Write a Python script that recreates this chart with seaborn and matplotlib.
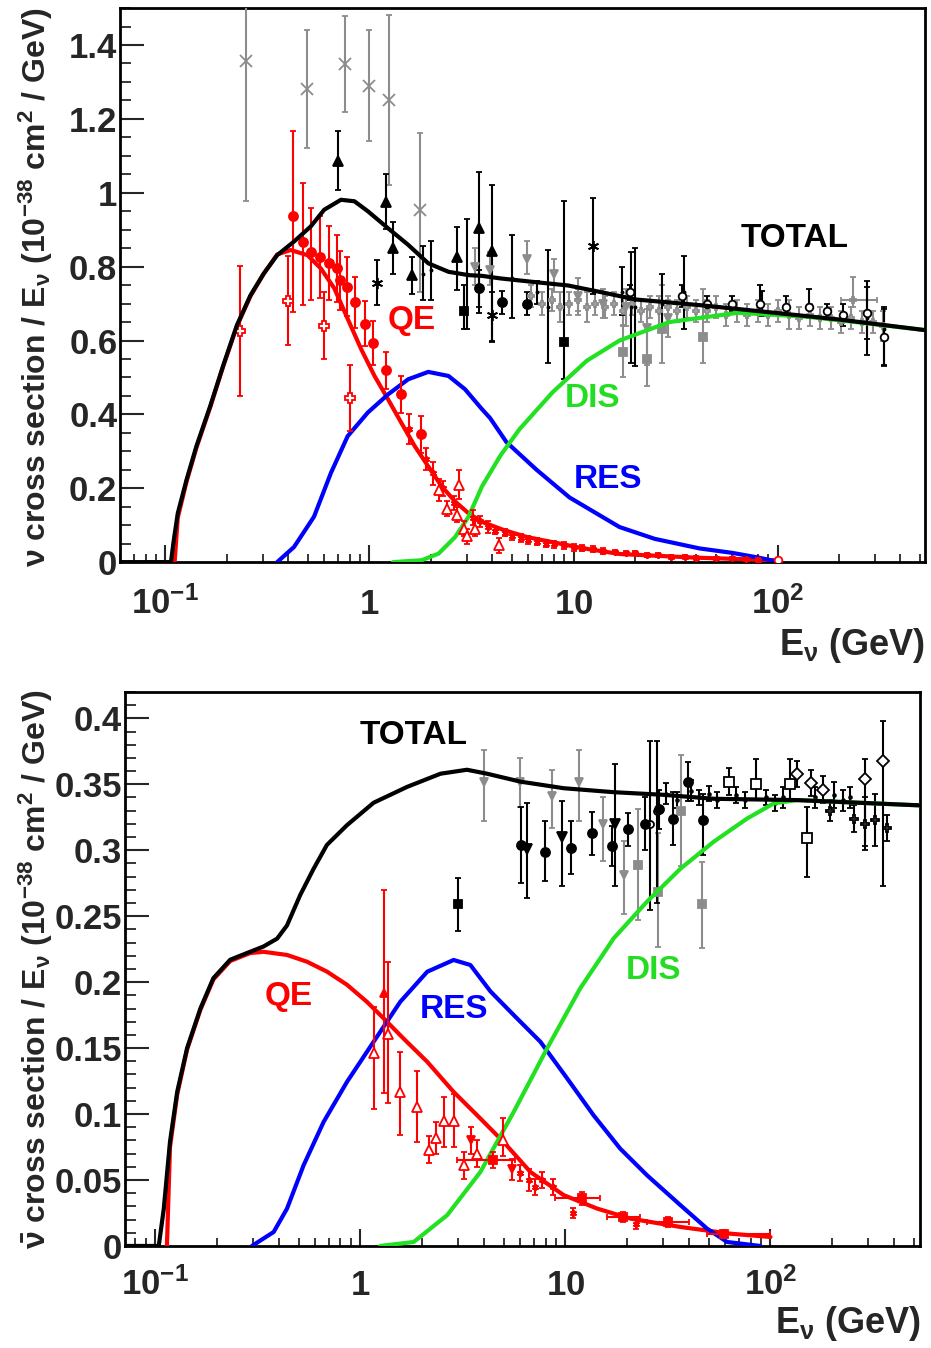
import numpy as np
import pandas as pd
import matplotlib
matplotlib.use("Agg")
import matplotlib.pyplot as plt
import seaborn as sns

# ------------------------------------------------------------------
# model curves (E in GeV, cross section / E in 1e-38 cm^2 / GeV)
# ------------------------------------------------------------------
nu_total_E = [0.06, 0.1065, 0.110, 0.115, 0.127, 0.142, 0.166, 0.192, 0.224, 0.261, 0.303, 0.353,
              0.427, 0.516, 0.600, 0.725, 0.844, 0.982, 1.233, 1.548, 1.942, 2.44, 3.06, 3.56,
              4.4, 6.5, 9.4, 13.9, 20.2, 43, 93, 199, 530]
nu_total_y = [0, 0, 0.06, 0.132, 0.223, 0.314, 0.423, 0.532, 0.641, 0.722, 0.781, 0.831,
              0.868, 0.909, 0.954, 0.981, 0.977, 0.950, 0.904, 0.859, 0.809, 0.786, 0.777, 0.775,
              0.768, 0.758, 0.749, 0.73, 0.711, 0.695, 0.676, 0.657, 0.628]

nu_qe_E = [0.111, 0.115, 0.127, 0.142, 0.166, 0.192, 0.224, 0.261, 0.303, 0.353, 0.411, 0.497,
           0.578, 0.673, 0.782, 0.910, 1.059, 1.233, 1.433, 1.667, 1.942, 2.26, 2.63, 3.06, 3.56,
           4.49, 5.9, 7.9, 11, 16.8, 40, 100]
nu_qe_y = [0, 0.12, 0.218, 0.31, 0.42, 0.53, 0.638, 0.72, 0.78, 0.833, 0.845, 0.831,
           0.795, 0.741, 0.659, 0.577, 0.504, 0.441, 0.377, 0.314, 0.259, 0.205, 0.164, 0.132, 0.109,
           0.088, 0.068, 0.054, 0.038, 0.022, 0.012, 0.005]

nu_res_E = [0.353, 0.427, 0.535, 0.647, 0.782, 0.982, 1.233, 1.548, 1.942, 2.44, 2.94, 3.56,
            3.9, 4.69, 6.59, 9.56, 16.8, 25, 41.5, 60, 81, 102]
nu_res_y = [0, 0.041, 0.123, 0.241, 0.341, 0.405, 0.454, 0.495, 0.515, 0.504, 0.468, 0.414,
            0.39, 0.325, 0.25, 0.175, 0.095, 0.063, 0.037, 0.025, 0.012, 0]

nu_dis_E = [1.304, 1.80, 2.18, 2.63, 3.06, 3.56, 4.4, 5.44, 7.9, 11.6, 16.8, 29.5, 63.7, 135,
            200, 530]
nu_dis_y = [0, 0.005, 0.023, 0.068, 0.123, 0.205, 0.29, 0.36, 0.46, 0.545, 0.60, 0.65, 0.675,
            0.665, 0.655, 0.628]

nub_total_E = [0.071, 0.104, 0.110, 0.118, 0.128, 0.143, 0.166, 0.192, 0.232, 0.290, 0.337, 0.393,
               0.439, 0.509, 0.592, 0.687, 0.861, 1.161, 1.69, 2.46, 3.31, 4.15, 6.03, 9.82, 17.2,
               30.1, 52.9, 135, 535]
nub_total_y = [0, 0, 0.028, 0.079, 0.117, 0.150, 0.180, 0.203, 0.217, 0.223, 0.227, 0.233,
               0.243, 0.266, 0.286, 0.304, 0.319, 0.336, 0.348, 0.358, 0.361, 0.358, 0.352, 0.347, 0.344,
               0.342, 0.339, 0.338, 0.334]

nub_qe_E = [0.114, 0.118, 0.128, 0.143, 0.166, 0.192, 0.232, 0.290, 0.337, 0.439, 0.549, 0.687,
            0.861, 1.078, 1.30, 1.63, 2.12, 2.85, 3.85, 4.99, 6.75, 9.82, 14.3, 20.8, 36.4, 63.8, 100]
nub_qe_y = [0, 0.075, 0.115, 0.149, 0.179, 0.202, 0.216, 0.222, 0.223, 0.2206, 0.2155, 0.208,
            0.198, 0.185, 0.1725, 0.157, 0.1396, 0.1168, 0.0966, 0.0789, 0.0561, 0.0385, 0.0283,
            0.0207, 0.0144, 0.0093, 0.0068]

nub_res_E = [0.296, 0.378, 0.439, 0.529, 0.662, 0.861, 1.161, 1.566, 2.12, 2.85, 3.44, 3.85, 4.31,
             5.60, 7.55, 10.2, 13.7, 18.5, 25.0, 36.4, 49.1, 61.5, 89.2]
nub_res_y = [0, 0.0106, 0.0283, 0.0612, 0.094, 0.1244, 0.1548, 0.1851, 0.2079, 0.2168, 0.213, 0.203,
             0.193, 0.175, 0.1548, 0.127, 0.0992, 0.0738, 0.0536, 0.0309, 0.0131, 0.003, 0]

nub_dis_E = [1.25, 1.82, 2.65, 3.85, 5.60, 8.14, 11.8, 17.2, 25.0, 36.4, 52.9, 76.9, 104, 135, 535]
nub_dis_y = [0, 0.003, 0.0233, 0.0561, 0.1017, 0.1497, 0.1952, 0.2332, 0.261, 0.286, 0.3065, 0.324,
             0.3356, 0.338, 0.334]

# ------------------------------------------------------------------
# data points: (E, value, err_down, err_up)
# ------------------------------------------------------------------
nu_gray_x = [(0.249, 1.357, 0.38, 0.15), (0.497, 1.28, 0.16, 0.16), (0.755, 1.349, 0.13, 0.13),
             (0.99, 1.29, 0.15, 0.15), (1.25, 1.25, 0.23, 0.23), (1.76, 0.952, 0.22, 0.21)]
nu_black_tri = [(0.70, 1.087, 0.08, 0.08), (1.21, 0.976, 0.075, 0.075), (1.31, 0.85, 0.07, 0.07),
                (1.61, 0.777, 0.05, 0.05), (2.70, 0.826, 0.09, 0.08), (3.46, 0.905, 0.23, 0.15),
                (4.0, 0.842, 0.245, 0.18)]
nu_black_star = [(1.09, 0.757, 0.06, 0.06), (4.0, 0.67, 0.07, 0.06), (12.5, 0.856, 0.13, 0.13)]
nu_black_circ = [(3.46, 0.741, 0.05, 0.05), (4.48, 0.703, 0.03, 0.03), (5.94, 0.70, 0.03, 0.03)]
nu_black_sq = [(2.9, 0.68, 0.05, 0.07), (9.0, 0.597, 0.10, 0.38)]
nu_black_bars = [(1.82, 0.78, 0.07, 0.075), (2.0, 0.79, 0.08, 0.08), (3.02, 0.78, 0.15, 0.15),
                 (5.0, 0.77, 0.11, 0.115), (6.6, 0.73, 0.03, 0.03), (7.5, 0.69, 0.15, 0.155),
                 (17.2, 0.73, 0.06, 0.07), (19.2, 0.69, 0.15, 0.15), (20.1, 0.69, 0.16, 0.16),
                 (27.2, 0.70, 0.07, 0.08), (34.6, 0.73, 0.1, 0.1), (84.3, 0.70, 0.035, 0.035),
                 (275, 0.66, 0.1, 0.1), (333, 0.63, 0.1, 0.06)]
nu_gray_sq = [(17.4, 0.57, 0.07, 0.073), (22.8, 0.551, 0.075, 0.09), (27.2, 0.63, 0.09, 0.12),
              (43, 0.61, 0.07, 0.13)]
nu_gray_vtri = [(3.3, 0.80, 0.05, 0.05), (3.9, 0.79, 0.04, 0.05), (5.9, 0.82, 0.04, 0.05),
                (8.0, 0.78, 0.05, 0.04), (10.5, 0.72, 0.05, 0.05), (14, 0.70, 0.04, 0.04),
                (18, 0.69, 0.05, 0.05), (23, 0.635, 0.1, 0.05), (29, 0.66, 0.05, 0.05)]
nu_gray_band = [(6.2, 0.72, 0.03, 0.03), (7.0, 0.70, 0.03, 0.03), (7.8, 0.71, 0.03, 0.03),
                (8.6, 0.69, 0.04, 0.04), (9.5, 0.70, 0.03, 0.03), (10.5, 0.71, 0.03, 0.03),
                (11.6, 0.69, 0.04, 0.04), (12.8, 0.70, 0.03, 0.03), (14.2, 0.69, 0.03, 0.03),
                (15.7, 0.70, 0.03, 0.03), (17.4, 0.68, 0.04, 0.04), (19.3, 0.70, 0.03, 0.03),
                (21.4, 0.68, 0.03, 0.03), (23.7, 0.69, 0.03, 0.03), (26.2, 0.68, 0.04, 0.04),
                (29, 0.69, 0.03, 0.03), (32, 0.68, 0.03, 0.03), (36, 0.69, 0.03, 0.03),
                (40, 0.68, 0.03, 0.03), (45, 0.68, 0.03, 0.03), (50, 0.69, 0.03, 0.03),
                (56, 0.67, 0.03, 0.03), (63, 0.68, 0.03, 0.03), (71, 0.67, 0.03, 0.03),
                (80, 0.68, 0.03, 0.03), (90, 0.67, 0.03, 0.03), (101, 0.68, 0.03, 0.03),
                (114, 0.67, 0.04, 0.04), (128, 0.66, 0.03, 0.03), (144, 0.67, 0.03, 0.03),
                (162, 0.66, 0.03, 0.03), (182, 0.66, 0.03, 0.03), (205, 0.65, 0.03, 0.03),
                (230, 0.66, 0.03, 0.03), (260, 0.65, 0.03, 0.03), (292, 0.65, 0.03, 0.03),
                (330, 0.64, 0.04, 0.04)]
nu_open_black = [(19, 0.73, 0.02, 0.02), (34, 0.72, 0.03, 0.03), (45, 0.70, 0.02, 0.02),
                 (60, 0.70, 0.02, 0.02), (82, 0.70, 0.03, 0.05), (110, 0.69, 0.02, 0.03),
                 (143, 0.69, 0.03, 0.05), (175, 0.68, 0.02, 0.02), (210, 0.67, 0.03, 0.03),
                 (275, 0.675, 0.07, 0.07), (333, 0.61, 0.075, 0.075)]
nu_gray_cross = [(233, 0.711, 0.02, 0.06)]
nu_gray_cross_x = [(204, 307)]

nu_red_circ = [(0.42, 0.937, 0.26, 0.23), (0.47, 0.866, 0.17, 0.16), (0.52, 0.839, 0.13, 0.12),
               (0.575, 0.826, 0.11, 0.11), (0.63, 0.809, 0.10, 0.10), (0.69, 0.795, 0.09, 0.09),
               (0.72, 0.763, 0.08, 0.08), (0.78, 0.745, 0.08, 0.08), (0.85, 0.703, 0.07, 0.07),
               (0.955, 0.646, 0.06, 0.06), (1.046, 0.594, 0.06, 0.06), (1.2, 0.52, 0.05, 0.05),
               (1.43, 0.455, 0.05, 0.05), (1.78, 0.346, 0.05, 0.05)]
nu_red_cross = [(0.231, 0.627, 0.177, 0.175), (0.397, 0.708, 0.12, 0.12), (0.60, 0.64, 0.09, 0.09),
                (0.80, 0.444, 0.09, 0.09)]
nu_red_tri = [(2.2, 0.196, 0.03, 0.03), (2.4, 0.145, 0.02, 0.02), (2.7, 0.128, 0.02, 0.02),
              (2.76, 0.21, 0.04, 0.04), (2.9, 0.09, 0.02, 0.02), (3.0, 0.07, 0.02, 0.02),
              (3.3, 0.09, 0.02, 0.02), (4.3, 0.046, 0.02, 0.02)]
nu_red_star = [(1.57, 0.36, 0.04, 0.04), (1.9, 0.28, 0.03, 0.03), (2.05, 0.24, 0.03, 0.03),
               (2.3, 0.20, 0.02, 0.02), (2.6, 0.16, 0.02, 0.02), (3.2, 0.12, 0.02, 0.02),
               (3.5, 0.11, 0.015, 0.015), (3.8, 0.095, 0.015, 0.015), (4.1, 0.085, 0.01, 0.01),
               (4.6, 0.08, 0.01, 0.01), (5.0, 0.07, 0.01, 0.01), (5.5, 0.065, 0.01, 0.01),
               (6.0, 0.06, 0.01, 0.01), (6.6, 0.055, 0.01, 0.01), (7.3, 0.05, 0.01, 0.01),
               (8.0, 0.048, 0.01, 0.01), (9, 0.045, 0.01, 0.01), (10, 0.04, 0.01, 0.01),
               (11, 0.037, 0.008, 0.008), (12.5, 0.035, 0.008, 0.008), (14, 0.03, 0.008, 0.008),
               (16, 0.028, 0.006, 0.006), (18, 0.025, 0.006, 0.006), (20, 0.024, 0.006, 0.006),
               (23, 0.02, 0.005, 0.005), (26, 0.02, 0.005, 0.005), (30, 0.015, 0.005, 0.005),
               (35, 0.015, 0.005, 0.005), (40, 0.012, 0.004, 0.004), (50, 0.01, 0.004, 0.004),
               (60, 0.01, 0.003, 0.003), (70, 0.008, 0.003, 0.003), (80, 0.007, 0.003, 0.003)]
nu_red_open = [(100, 0.005, 0.003, 0.003)]

nub_gray_vtri = [(4.03, 0.352, 0.03, 0.024), (6.03, 0.352, 0.019, 0.018), (8.6, 0.341, 0.024, 0.02),
                 (11.7, 0.352, 0.03, 0.024), (15.3, 0.32, 0.028, 0.02), (19.4, 0.281, 0.029, 0.026)]
nub_black_circ = [(6.1, 0.304, 0.029, 0.029), (7.97, 0.299, 0.022, 0.023), (10.6, 0.302, 0.02, 0.02),
                  (13.5, 0.313, 0.017, 0.016), (16.8, 0.303, 0.015, 0.015), (20.2, 0.316, 0.013, 0.012),
                  (24.5, 0.32, 0.02, 0.02), (28.7, 0.331, 0.015, 0.015), (33.6, 0.324, 0.02, 0.02),
                  (39.8, 0.352, 0.015, 0.015), (46.9, 0.323, 0.027, 0.02)]
nub_black_vtri = [(6.5, 0.301, 0.037, 0.035), (9.6, 0.31, 0.037, 0.027), (17.4, 0.32, 0.047, 0.045)]
nub_black_sq = [(3.0, 0.259, 0.02, 0.02)]
nub_black_bars = [(25.8, 0.32, 0.065, 0.063), (27.9, 0.33, 0.07, 0.053)]
nub_gray_sq = [(22.6, 0.289, 0.042, 0.042), (28.4, 0.268, 0.041, 0.045), (36.5, 0.33, 0.042, 0.042),
               (46.6, 0.259, 0.033, 0.032)]
nub_open_sq = [(62.5, 0.352, 0.01, 0.01), (85, 0.35, 0.012, 0.019), (125, 0.35, 0.012, 0.019),
               (151, 0.309, 0.029, 0.024)]
nub_open_diam = [(135, 0.358, 0.01, 0.01), (157, 0.351, 0.01, 0.01), (180, 0.346, 0.01, 0.01),
                 (288, 0.354, 0.051, 0.015), (355, 0.368, 0.095, 0.03)]
nub_open_cross = [(195, 0.33, 0.008, 0.008), (255, 0.324, 0.01, 0.01), (288, 0.32, 0.02, 0.02),
                  (323, 0.323, 0.02, 0.02), (368, 0.317, 0.01, 0.01)]
nub_black_band = [(31, 0.343, 0.008, 0.008), (35, 0.338, 0.006, 0.006), (41, 0.345, 0.008, 0.008),
                  (45, 0.34, 0.006, 0.006), (50, 0.343, 0.006, 0.006), (55, 0.338, 0.006, 0.006),
                  (68, 0.342, 0.006, 0.006), (75, 0.338, 0.006, 0.006), (95, 0.34, 0.006, 0.006),
                  (105, 0.336, 0.006, 0.006), (115, 0.34, 0.008, 0.008), (165, 0.34, 0.008, 0.008),
                  (205, 0.342, 0.01, 0.01), (225, 0.338, 0.008, 0.008), (245, 0.34, 0.008, 0.008)]

nub_red_tri = [(1.17, 0.146, 0.042, 0.035), (1.37, 0.161, 0.053, 0.054), (1.57, 0.117, 0.033, 0.03),
               (1.88, 0.105, 0.026, 0.028), (2.17, 0.073, 0.01, 0.01), (2.35, 0.082, 0.012, 0.012),
               (2.57, 0.095, 0.02, 0.018), (2.87, 0.095, 0.02, 0.02), (3.21, 0.061, 0.01, 0.01),
               (3.72, 0.07, 0.01, 0.01), (4.98, 0.08, 0.012, 0.017)]
nub_red_fulltri = [(1.3, 0.192, 0.076, 0.078)]
nub_red_vtri = [(3.47, 0.08, 0.01, 0.01), (5.5, 0.058, 0.008, 0.008)]
nub_red_sq = [(4.46, 0.065, 0.006, 0.006), (12.1, 0.036, 0.005, 0.005), (19, 0.022, 0.004, 0.004),
              (31.8, 0.018, 0.004, 0.004), (59.6, 0.0094, 0.003, 0.003)]
nub_red_sq_x = [(2.97, 5.7), (8.9, 14.8), (16, 23), (25, 40), (49, 100)]
nub_red_star = [(6.0, 0.055, 0.006, 0.006), (6.67, 0.05, 0.008, 0.008), (7.1, 0.045, 0.006, 0.006),
                (7.7, 0.05, 0.006, 0.006), (8.7, 0.045, 0.006, 0.006), (10.9, 0.025, 0.004, 0.004),
                (22.2, 0.017, 0.004, 0.004)]

# curve labels
nu_labels = [("TOTAL", 121, 0.877, "black"), ("QE", 1.61, 0.654, "red"),
             ("DIS", 12.4, 0.444, "#22dd22"), ("RES", 14.7, 0.223, "blue")]
nub_labels = [("TOTAL", 1.81, 0.387, "black"), ("QE", 0.445, 0.189, "red"),
              ("RES", 2.87, 0.179, "blue"), ("DIS", 26.9, 0.209, "#22dd22")]

GREEN = "#22e022"
GRAY = "#8c8c8c"
ASTER = (6, 2, 0)

sns.set_style("ticks")
plt.rcParams["font.family"] = ["Liberation Sans", "DejaVu Sans"]
plt.rcParams["font.weight"] = "bold"
plt.rcParams["mathtext.fontset"] = "custom"
plt.rcParams["mathtext.rm"] = "Liberation Sans:bold"
plt.rcParams["mathtext.it"] = "Liberation Sans:bold"
plt.rcParams["mathtext.bf"] = "Liberation Sans:bold"
plt.rcParams["mathtext.sf"] = "Liberation Sans:bold"

fig = plt.figure(figsize=(9.31, 13.48), dpi=100)
ax1 = fig.add_axes([0.129, 0.583, 0.865, 0.411])
ax2 = fig.add_axes([0.134, 0.0757, 0.854, 0.411])


def draw_curve(ax, E, y, color, z):
    df = pd.DataFrame({"E": E, "y": y})
    sns.lineplot(data=df, x="E", y="y", color=color, lw=3.0, estimator=None,
                 sort=False, ax=ax, zorder=z)


def draw_pts(ax, pts, marker, color, filled=True, ms=6.5, xr=None, z=3):
    E = [p[0] for p in pts]
    y = [p[1] for p in pts]
    yerr = [[p[2] for p in pts], [p[3] for p in pts]]
    xerr = None
    if xr is not None:
        xerr = [[p[0] - r[0] for p, r in zip(pts, xr)], [r[1] - p[0] for p, r in zip(pts, xr)]]
    ax.errorbar(E, y, yerr=yerr, xerr=xerr, marker=marker, linestyle="none", color=color,
                mfc=color if filled else "white", mec=color, ms=ms, mew=1.3,
                elinewidth=1.5, capsize=2.2, capthick=1.3, zorder=z)


# ---------------- top panel: neutrino ----------------
draw_pts(ax1, nu_gray_x, "x", GRAY, ms=9)
draw_pts(ax1, nu_gray_band, "P", GRAY, filled=False, ms=5)
draw_pts(ax1, nu_gray_vtri, "v", GRAY, ms=6)
draw_pts(ax1, nu_gray_sq, "s", GRAY, ms=6)
draw_pts(ax1, nu_gray_cross, "P", GRAY, ms=5, xr=nu_gray_cross_x)
draw_pts(ax1, nu_black_bars, ".", "black", ms=3)
draw_pts(ax1, nu_black_tri, "^", "black", ms=6.5)
draw_pts(ax1, nu_black_star, ASTER, "black", ms=8)
draw_pts(ax1, nu_black_circ, "o", "black", ms=6.5)
draw_pts(ax1, nu_black_sq, "s", "black", ms=6)
draw_pts(ax1, nu_open_black, "o", "black", filled=False, ms=5.5)

draw_curve(ax1, nu_qe_E, nu_qe_y, "red", 4)
draw_curve(ax1, nu_res_E, nu_res_y, "blue", 4)
draw_curve(ax1, nu_dis_E, nu_dis_y, GREEN, 4)

draw_pts(ax1, nu_red_star, ASTER, "red", ms=5, z=5)
draw_pts(ax1, nu_red_tri, "^", "red", filled=False, ms=6.5, z=5)
draw_pts(ax1, nu_red_cross, "P", "red", filled=False, ms=7, z=5)
draw_pts(ax1, nu_red_circ, "o", "red", ms=6.5, z=5)
draw_pts(ax1, nu_red_open, "o", "red", filled=False, ms=5.5, z=5)

draw_curve(ax1, nu_total_E, nu_total_y, "black", 6)

for txt, x, y, c in nu_labels:
    ax1.text(x, y, txt, color=c, fontsize=24, fontweight="bold", ha="center", va="center")

# ---------------- bottom panel: antineutrino ----------------
draw_pts(ax2, nub_gray_vtri, "v", GRAY, ms=6)
draw_pts(ax2, nub_gray_sq, "s", GRAY, ms=6)
draw_pts(ax2, nub_black_band, ".", "black", ms=4)
draw_pts(ax2, nub_black_bars, "o", "black", filled=False, ms=5)
draw_pts(ax2, nub_black_circ, "o", "black", ms=6.5)
draw_pts(ax2, nub_black_vtri, "v", "black", ms=6.5)
draw_pts(ax2, nub_black_sq, "s", "black", ms=6)
draw_pts(ax2, nub_open_sq, "s", "black", filled=False, ms=7)
draw_pts(ax2, nub_open_diam, "D", "black", filled=False, ms=6)
draw_pts(ax2, nub_open_cross, "P", "black", filled=False, ms=6)

draw_curve(ax2, nub_qe_E, nub_qe_y, "red", 4)
draw_curve(ax2, nub_res_E, nub_res_y, "blue", 4)
draw_curve(ax2, nub_dis_E, nub_dis_y, GREEN, 4)

draw_pts(ax2, nub_red_star, ASTER, "red", ms=5, z=5)
draw_pts(ax2, nub_red_tri, "^", "red", filled=False, ms=7, z=5)
draw_pts(ax2, nub_red_fulltri, "^", "red", ms=6, z=5)
draw_pts(ax2, nub_red_vtri, "v", "red", ms=6, z=5)
draw_pts(ax2, nub_red_sq, "s", "red", ms=6, xr=nub_red_sq_x, z=5)

draw_curve(ax2, nub_total_E, nub_total_y, "black", 6)

for txt, x, y, c in nub_labels:
    ax2.text(x, y, txt, color=c, fontsize=24, fontweight="bold", ha="center", va="center")

# ---------------- axes styling ----------------
xtick_vals = [0.1, 1, 10, 100]
xtick_labels = [r"$10^{-1}$", r"$1$", r"$10$", r"$10^{2}$"]

setups = [
    (ax1, (0.06, 530), (0, 1.5), np.arange(0, 1.41, 0.2), ["0", "0.2", "0.4", "0.6", "0.8", "1", "1.2", "1.4"], 0.05, 37),
    (ax2, (0.071, 535), (0, 0.42), np.arange(0, 0.401, 0.05),
     ["0", "0.05", "0.1", "0.15", "0.2", "0.25", "0.3", "0.35", "0.4"], 0.01, 35),
]
for ax, xl, yl, yt, ytl, ymin, xpad in setups:
    ax.set_xscale("log")
    ax.set_xlim(*xl)
    ax.set_ylim(*yl)
    ax.set_xticks(xtick_vals)
    ax.set_xticklabels(xtick_labels)
    ax.set_yticks(yt)
    ax.set_yticklabels(ytl)
    ax.yaxis.set_minor_locator(matplotlib.ticker.MultipleLocator(ymin))
    ax.xaxis.set_minor_locator(matplotlib.ticker.LogLocator(base=10, subs=np.arange(2, 10)))
    ax.xaxis.set_minor_formatter(matplotlib.ticker.NullFormatter())
    ax.tick_params(axis="x", which="major", direction="in", length=12, width=1.5,
                   labelsize=25, pad=xpad)
    ax.tick_params(axis="x", which="minor", direction="in", length=6, width=1.3)
    ax.tick_params(axis="y", which="major", direction="in", length=17, width=1.5,
                   labelsize=25, pad=2)
    ax.tick_params(axis="y", which="minor", direction="in", length=8, width=1.3)
    for lbl in ax.get_xticklabels():
        lbl.set_verticalalignment("baseline")
    for s in ax.spines.values():
        s.set_linewidth(2.0)
        s.set_color("black")
    ax.set_xlabel("")
    ax.set_ylabel("")

fig.text(0.994, 1 - 655 / 1348, r"E$_{\nu}$ (GeV)", fontsize=26, fontweight="bold",
         ha="right", va="baseline")
fig.text(0.989, 1 - 1333 / 1348, r"E$_{\nu}$ (GeV)", fontsize=26, fontweight="bold",
         ha="right", va="baseline")
fig.text(36 / 931, 1 - 8 / 1348, r"$\nu$ cross section / E$_{\nu}$ (10$^{-38}$ cm$^{2}$ / GeV)",
         fontsize=23, fontweight="bold", rotation=90, ha="center", va="top")
fig.text(36 / 931, 1 - 690 / 1348, r"$\bar{\nu}$ cross section / E$_{\nu}$ (10$^{-38}$ cm$^{2}$ / GeV)",
         fontsize=23, fontweight="bold", rotation=90, ha="center", va="top")

fig.savefig("out.png", dpi=100)
